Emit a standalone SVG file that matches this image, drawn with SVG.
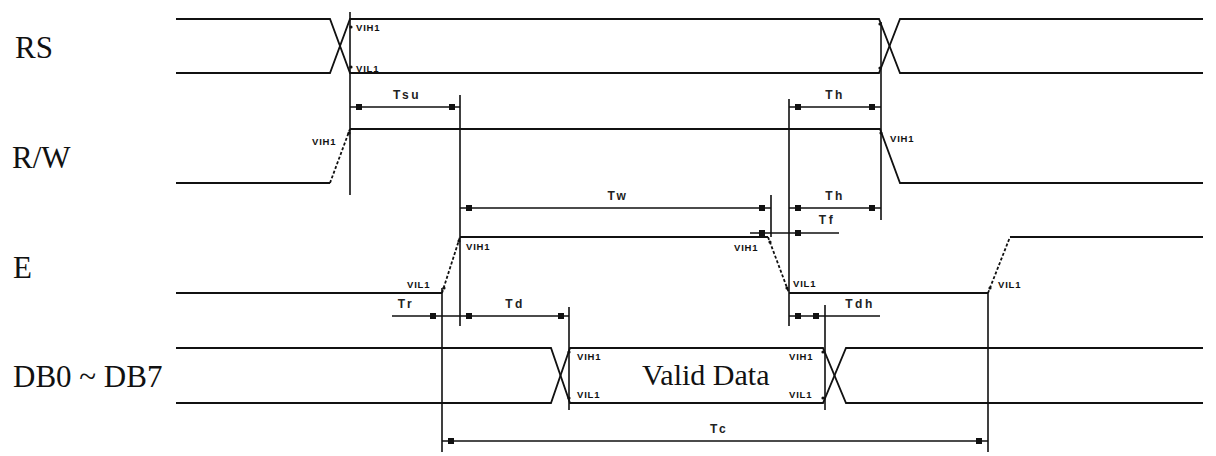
<svg xmlns="http://www.w3.org/2000/svg" width="1216" height="456" viewBox="0 0 1216 456">
<style>
.s{fill:none;stroke:#111;stroke-width:1.8}
.d{fill:none;stroke:#111;stroke-width:1.8;stroke-dasharray:3 2}
.v{fill:none;stroke:#111;stroke-width:1.6}
.sq{fill:#111}
.dot{fill:#111}
.lbl{font-family:"Liberation Serif",serif;font-size:31px;fill:#111}
.t{font-family:"Liberation Sans",sans-serif;font-size:12px;font-weight:bold;fill:#222;letter-spacing:2.5px;text-anchor:middle}
.vi{font-family:"Liberation Sans",sans-serif;font-size:9.5px;font-weight:bold;fill:#111;letter-spacing:0.8px}
</style>
<rect width="1216" height="456" fill="#fff"/>
<g id="rs">
<text class="lbl" x="15" y="58">RS</text>
<path class="s" d="M176 19H330L350 73H879L900 19H1203"/>
<path class="s" d="M176 73H330L350 19H879L900 73H1203"/>
<text class="vi" x="356" y="31">VIH1</text>
<text class="vi" x="356" y="72">VIL1</text>
</g>
<g id="rw">
<text class="lbl" x="12" y="168">R/W</text>
<path class="s" d="M176 183H330"/>
<path class="d" d="M330 183L350 129"/>
<path class="s" d="M350 129H880L900 183H1203"/>
<text class="vi" x="312" y="145">VIH1</text>
<text class="vi" x="890" y="142">VIH1</text>
</g>
<g id="e">
<text class="lbl" x="13" y="278">E</text>
<path class="s" d="M176 293H442"/>
<path class="d" d="M442 293L460 237"/>
<path class="s" d="M460 237H768"/>
<path class="d" d="M768 237L789 293"/>
<path class="s" d="M789 293H988"/>
<path class="d" d="M988 293L1010 237"/>
<path class="s" d="M1010 237H1203"/>
<text class="vi" x="407" y="288">VIL1</text>
<text class="vi" x="466" y="250">VIH1</text>
<text class="vi" x="734" y="251">VIH1</text>
<text class="vi" x="793" y="287">VIL1</text>
<text class="vi" x="998" y="288">VIL1</text>
</g>
<g id="db">
<text class="lbl" x="13" y="387">DB0 ~ DB7</text>
<path class="s" d="M176 348H551L570 403H823L846 348H1203"/>
<path class="s" d="M176 403H551L570 348H823L846 403H1203"/>
<text class="lbl" x="642" y="385" style="font-size:30px">Valid Data</text>
<text class="vi" x="577" y="360">VIH1</text>
<text class="vi" x="577" y="398">VIL1</text>
<text class="vi" x="789" y="360">VIH1</text>
<text class="vi" x="789" y="398">VIL1</text>
</g>
<g id="connectors">
<path class="v" d="M350 12V195M460 95V326M881 22V220M789 99V326M771 195V237M442 288V452M569 307V410M825 305V410M988 293V452"/>
<path class="v" d="M350 107H460M789 107H881M460 208H771M789 208H881M750 233H839M392 316H569M789 316H880M442 441H988"/>
<g class="sq">
<rect x="356" y="104" width="6" height="6"/><rect x="449" y="104" width="6" height="6"/>
<rect x="795" y="104" width="6" height="6"/><rect x="869" y="104" width="6" height="6"/>
<rect x="466" y="205" width="6" height="6"/><rect x="759" y="205" width="6" height="6"/>
<rect x="795" y="205" width="6" height="6"/><rect x="869" y="205" width="6" height="6"/>
<rect x="759" y="230" width="6" height="6"/><rect x="795" y="230" width="6" height="6"/>
<rect x="430" y="313" width="6" height="6"/><rect x="466" y="313" width="6" height="6"/><rect x="558" y="313" width="6" height="6"/>
<rect x="795" y="313" width="6" height="6"/><rect x="813" y="313" width="6" height="6"/>
<rect x="448" y="438" width="6" height="6"/><rect x="976" y="438" width="6" height="6"/>
</g>
<g class="dot">
<circle cx="351" cy="27" r="1.6"/><circle cx="351" cy="67" r="1.6"/><circle cx="349" cy="133" r="1.6"/>
<circle cx="880" cy="24" r="1.6"/><circle cx="880" cy="68" r="1.6"/><circle cx="881" cy="133" r="1.6"/>
<circle cx="444" cy="288" r="1.6"/><circle cx="459" cy="241" r="1.6"/><circle cx="770" cy="242" r="1.6"/>
<circle cx="787" cy="288" r="1.6"/><circle cx="990" cy="288" r="1.6"/>
<circle cx="569" cy="352" r="1.6"/><circle cx="569" cy="398" r="1.6"/><circle cx="823" cy="352" r="1.6"/><circle cx="823" cy="398" r="1.6"/>
</g>
<text class="t" x="407" y="99">Tsu</text>
<text class="t" x="835" y="99">Th</text>
<text class="t" x="618" y="200">Tw</text>
<text class="t" x="835" y="200">Th</text>
<text class="t" x="827" y="224">Tf</text>
<text class="t" x="406" y="308">Tr</text>
<text class="t" x="515" y="308">Td</text>
<text class="t" x="860" y="308">Tdh</text>
<text class="t" x="719" y="433">Tc</text>
</g>
</svg>
